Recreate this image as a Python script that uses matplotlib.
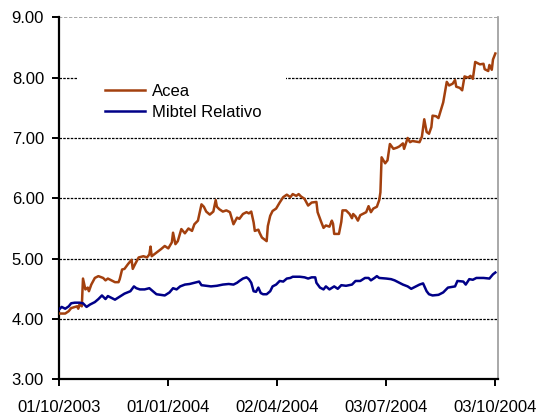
import numpy as np
import matplotlib
matplotlib.use("Agg")
import matplotlib.pyplot as plt
import matplotlib.dates as mdates
from matplotlib.patches import Rectangle

plt.rcParams['font.family'] = ['Liberation Sans', 'DejaVu Sans']

start = np.datetime64('2003-10-01')

acea_days = [0, 5, 8, 10, 15, 16, 17, 19, 20, 22, 24, 25, 27, 30, 33, 37, 39, 41, 44, 47,
             50, 51, 53, 55, 58, 61, 62, 64, 67, 71, 74, 76, 77, 78, 82, 86, 89, 92, 95, 96,
             98, 100, 103, 106, 109, 112, 114, 117, 120, 122, 124, 127, 130, 132, 133, 135,
             138, 141, 144, 147, 150, 152, 155, 158, 160, 162, 164, 165, 168, 169, 171, 173,
             175, 176, 178, 180, 183, 186, 189, 192, 195, 197, 200, 202, 204, 207, 210, 213,
             217, 218, 221, 223, 225, 228, 230, 231, 232, 236, 238, 239, 242, 245, 247, 248,
             250, 252, 254, 256, 259, 261, 263, 265, 268, 270, 271, 272, 275, 277, 279, 282,
             285, 287, 290, 291, 294, 296, 298, 301, 304, 306, 308, 310, 312, 314, 315, 318,
             320, 322, 324, 327, 329, 332, 334, 335, 338, 340, 342, 345, 347, 349, 351, 355,
             358, 359, 362, 363, 365, 366, 368]
acea_vals = [4.09, 4.09, 4.13, 4.18, 4.21, 4.17, 4.24, 4.21, 4.67, 4.49, 4.52, 4.46, 4.57, 4.68,
             4.71, 4.68, 4.64, 4.67, 4.64, 4.61, 4.61, 4.66, 4.82, 4.83, 4.91, 4.98, 4.83, 4.91,
             5.02, 5.04, 5.02, 5.07, 5.20, 5.04, 5.10, 5.16, 5.21, 5.17, 5.27, 5.43, 5.24, 5.29,
             5.49, 5.42, 5.50, 5.46, 5.57, 5.63, 5.90, 5.86, 5.78, 5.73, 5.78, 5.97, 5.86, 5.82,
             5.78, 5.80, 5.77, 5.57, 5.68, 5.66, 5.74, 5.77, 5.75, 5.78, 5.60, 5.46, 5.48, 5.43,
             5.35, 5.32, 5.29, 5.54, 5.71, 5.79, 5.83, 5.93, 6.02, 6.06, 6.02, 6.07, 6.04, 6.07,
             6.03, 5.99, 5.88, 5.93, 5.94, 5.77, 5.61, 5.51, 5.55, 5.53, 5.63, 5.58, 5.41, 5.41,
             5.61, 5.80, 5.80, 5.74, 5.67, 5.74, 5.70, 5.63, 5.72, 5.74, 5.77, 5.87, 5.77, 5.83,
             5.86, 5.97, 6.10, 6.68, 6.58, 6.63, 6.90, 6.82, 6.84, 6.86, 6.91, 6.82, 7.00, 6.93,
             6.95, 6.94, 6.93, 7.02, 7.31, 7.10, 7.07, 7.18, 7.37, 7.36, 7.33, 7.46, 7.59, 7.93,
             7.87, 7.90, 7.96, 7.85, 7.83, 7.79, 8.02, 8.00, 8.03, 7.98, 8.26, 8.22, 8.23, 8.14,
             8.11, 8.21, 8.13, 8.30, 8.40]

mib_days = [0, 2, 5, 8, 10, 13, 17, 20, 23, 26, 30, 33, 36, 39, 41, 44, 47, 51, 55, 60, 63,
            65, 68, 72, 76, 79, 82, 89, 93, 96, 99, 102, 106, 110, 114, 118, 120, 124, 128,
            133, 138, 143, 147, 150, 152, 155, 158, 160, 162, 164, 166, 168, 170, 172, 175,
            178, 180, 183, 186, 189, 192, 195, 197, 203, 207, 210, 213, 216, 217, 220, 223,
            225, 228, 232, 235, 238, 242, 247, 250, 254, 258, 261, 263, 266, 268, 270, 276,
            280, 283, 286, 290, 294, 297, 301, 304, 307, 310, 312, 315, 320, 324, 328, 334,
            336, 341, 343, 346, 349, 352, 358, 363, 366, 368]
mib_vals = [4.16, 4.20, 4.17, 4.21, 4.26, 4.27, 4.27, 4.26, 4.20, 4.24, 4.28, 4.33, 4.39, 4.33,
            4.38, 4.35, 4.32, 4.37, 4.42, 4.46, 4.54, 4.51, 4.49, 4.49, 4.51, 4.46, 4.41, 4.39,
            4.44, 4.51, 4.49, 4.54, 4.57, 4.58, 4.60, 4.62, 4.56, 4.55, 4.54, 4.55, 4.57, 4.58,
            4.57, 4.60, 4.63, 4.67, 4.69, 4.66, 4.60, 4.46, 4.45, 4.52, 4.43, 4.41, 4.41, 4.46,
            4.54, 4.57, 4.63, 4.62, 4.67, 4.68, 4.70, 4.70, 4.69, 4.67, 4.69, 4.69, 4.60, 4.52,
            4.49, 4.54, 4.49, 4.54, 4.50, 4.56, 4.55, 4.57, 4.63, 4.63, 4.68, 4.68, 4.64, 4.68,
            4.71, 4.68, 4.67, 4.66, 4.64, 4.61, 4.57, 4.54, 4.50, 4.54, 4.57, 4.59, 4.46, 4.41,
            4.39, 4.40, 4.44, 4.52, 4.54, 4.63, 4.62, 4.57, 4.66, 4.65, 4.68, 4.68, 4.67, 4.74,
            4.77]

series_names = ['Acea', 'Mibtel Relativo']
tick_dates = ['2003-10-01', '2004-01-01', '2004-04-02', '2004-07-03', '2004-10-03']
tick_labels = ['01/10/2003', '01/01/2004', '02/04/2004', '03/07/2004', '03/10/2004']
y_ticks = [3, 4, 5, 6, 7, 8, 9]

acea_x = start + np.array(acea_days).astype('timedelta64[D]')
mib_x = start + np.array(mib_days).astype('timedelta64[D]')

fig = plt.figure(figsize=(5.4, 4.16), dpi=100)
ax = fig.add_axes([0.1098, 0.0882, 0.8119, 0.8702])

ax.plot(acea_x, acea_vals, color='#A3400E', lw=1.8, zorder=3, label=series_names[0])
ax.plot(mib_x, mib_vals, color='#000088', lw=1.8, zorder=3, label=series_names[1])

ax.set_ylim(3, 9)
ax.set_yticks(y_ticks)
ax.set_yticklabels([f'{v:.2f}' for v in y_ticks])
ax.set_xlim(start, start + np.timedelta64(370, 'D'))
ax.set_xticks([np.datetime64(d) for d in tick_dates])
ax.set_xticklabels(tick_labels)

ax.set_axisbelow(True)
for v in y_ticks[1:-1]:
    ax.axhline(v, color='black', lw=0.9, ls=(0, (2, 1)), zorder=0.5)
ax.axhline(9, color='#999999', lw=1.2, ls=(0, (2, 1)), zorder=0.5)

ax.add_patch(Rectangle((0.0404, 0.70), 0.477, 0.17, transform=ax.transAxes,
                       facecolor='white', edgecolor='none', zorder=1))

for s in ['left', 'bottom']:
    ax.spines[s].set_color('black')
    ax.spines[s].set_linewidth(1.6)
ax.spines['top'].set_visible(False)
ax.spines['right'].set_color('#999999')
ax.spines['right'].set_linewidth(1.2)

ax.tick_params(axis='both', direction='out', length=5, width=1.4, color='black',
               labelsize=12, labelcolor='black')
ax.tick_params(axis='y', pad=6)
ax.tick_params(axis='x', pad=10)

leg = ax.legend(loc='upper left', bbox_to_anchor=(0.1049, 0.815), frameon=False,
                fontsize=12, handlelength=2.4, handletextpad=0.42, labelspacing=0.33,
                borderpad=0, borderaxespad=0)

fig.savefig('out.png', dpi=100)
